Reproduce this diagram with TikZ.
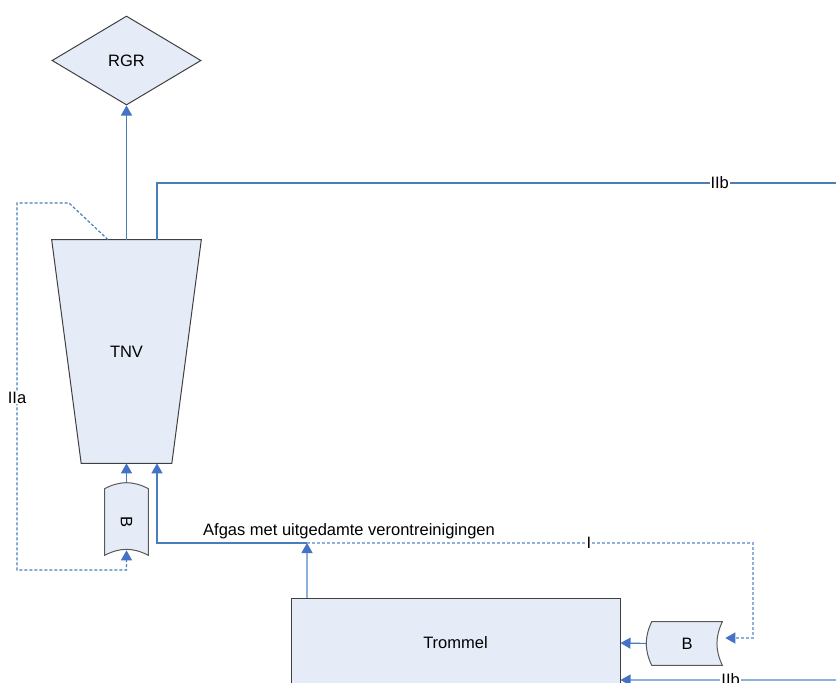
\documentclass[tikz,border=0pt]{standalone}
\usepackage{fontspec}
\setmainfont{Liberation Sans}
\usetikzlibrary{arrows.meta, shapes.geometric, backgrounds}
\definecolor{boxfill}{HTML}{E6ECF7}
\definecolor{flowblue}{HTML}{4A7EBB}
\definecolor{flowlight}{HTML}{8FB0DD}
\definecolor{tipblue}{HTML}{4472C4}
\tikzset{>={Triangle[length=6pt, width=6.6pt, color=tipblue]},
  unit/.style={fill=boxfill, draw=black!75, line width=0.6pt, inner sep=0pt},
  tape/.style={fill=boxfill, draw=black!65, line width=0.6pt},
  flow/.style={color=flowblue, line width=0.7pt},
  flowlt/.style={color=flowlight, line width=0.7pt},
  dashflow/.style={flow, dash pattern=on 1.8pt off 1.2pt},
  dashlt/.style={flowlt, dash pattern=on 1.8pt off 1.2pt},
  tag/.style={fill=white, inner sep=0.6pt, text=black}}

\begin{document}
\begin{tikzpicture}[x=0.6pt, y=-0.6pt, font=\fontsize{9.9}{12}\selectfont]
\clip (0,0) rectangle (836,682);

\node[unit, diamond, aspect=1.674, minimum width=89.4pt, minimum height=53.4pt] (RGR) at (126.5,60.5) {RGR};
\node[inner sep=0pt, minimum width=89.4pt, minimum height=133.8pt] (TNV) at (126.5,351.5) {TNV};
\node[unit, minimum width=197.4pt, minimum height=54pt] (Trommel) at (455.5,643) {Trommel};
\node[minimum width=25.8pt, minimum height=39.6pt, inner sep=0pt] (Ba) at (126.5,522) {\rotatebox{-90}{B}};
\node[minimum width=42pt, minimum height=25.8pt, inner sep=0pt] (Bb) at (687,643.5) {B};

\coordinate (afg) at (307,543);
\coordinate (turnI) at (753,543);
\coordinate (knik) at (69,203);
\coordinate (hoekA) at (17,203);
\coordinate (hoekB) at (17,570);
\coordinate (randA) at (850,183);
\coordinate (randB) at (850,680);

\begin{scope}[on background layer]
\draw[unit] (TNV.north west) -- (TNV.north east) -- ([xshift=-17.7pt]TNV.south east) -- ([xshift=17.7pt]TNV.south west) -- cycle;
% gas naar RGR en terugvoer
\draw[flow, ->] (TNV.north) -- (RGR.south);
\draw[flow] ([xshift=18.3pt]TNV.north) |- (randA) node[tag, pos=0.906] {IIb};
\draw[dashflow, ->] ([xshift=-11.1pt]TNV.north) -- (knik) -- (hoekA) -- node[tag, pos=0.53] {IIa} (hoekB) -| ([yshift=3pt]Ba.south);
\draw[flow, ->] (Ba.north) -- (TNV.south);
% afgas uit de trommel
\draw[flowlt, ->] (afg |- Trommel.north) -- (afg) node[anchor=base, xshift=25.2pt, yshift=4.8pt, text=black] {Afgas met uitgedamte verontreinigingen};
\draw[flow, ->] (afg) -| ([xshift=18.3pt]TNV.south);
\draw[dashlt, ->] (afg) -- node[tag, pos=0.632] {I} (turnI) |- ([xshift=1.8pt, yshift=3.3pt]Bb.east);
\draw[flow, ->] (Bb.west) -- (Trommel.east);
\draw[flowlt, ->] (randB) -- node[tag, pos=0.52] {IIb} (Trommel.east |- randB);
% branders
\draw[tape] (Ba.north west) to[out=28, in=152] (Ba.north east) -- (Ba.south east) to[out=152, in=28] (Ba.south west) -- cycle;
\draw[tape] (Bb.north west) -- (Bb.north east) to[out=-115, in=115] (Bb.south east) -- (Bb.south west) to[out=115, in=-115] (Bb.north west) -- cycle;
\end{scope}
\end{tikzpicture}
\end{document}
